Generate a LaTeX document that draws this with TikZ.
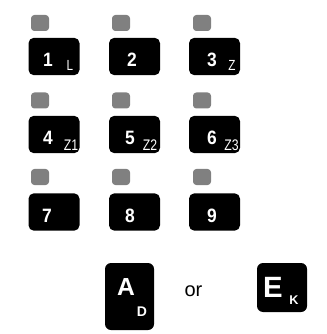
\documentclass[tikz,border=0pt]{standalone}
\usepackage{fontspec}
\setmainfont{Liberation Sans}
\newfontfamily\narrowsans[FakeStretch=0.8]{Liberation Sans}
\newfontfamily\keysans[FakeStretch=0.9]{Liberation Sans}
\usetikzlibrary{positioning}
\definecolor{led}{HTML}{808080}
\tikzset{
  key/.style={fill=black,rounded corners=4pt,minimum width=38.25pt,minimum height=28pt,inner sep=0pt},
  bigkey/.style={key,rounded corners=4.5pt},
  lamp/.style={fill=led,rounded corners=2.5pt,minimum width=13.5pt,minimum height=12pt,inner sep=0pt},
  digit/.style={text=white,inner sep=0pt,font=\keysans\bfseries\fontsize{14.5}{14.5}\selectfont},
  zone/.style={text=white,inner sep=0pt,font=\narrowsans\fontsize{11.5}{11.5}\selectfont},
  hint/.style={text=white,inner sep=0pt,font=\narrowsans\fontsize{11}{11}\selectfont}
}
\begin{document}
\begin{tikzpicture}[x=0.75pt,y=-0.75pt]
\useasboundingbox (0,0) rectangle (326,334);
% lamps
\node[lamp] (l1) at (40,23) {};    \node[lamp] (l2) at (121,23) {};    \node[lamp] (l3) at (202,23) {};
\node[lamp] (l4) at (40,100.5) {}; \node[lamp] (l5) at (121,100.5) {}; \node[lamp] (l6) at (202,100.5) {};
\node[lamp] (l7) at (40,177) {};   \node[lamp] (l8) at (121,177) {};   \node[lamp] (l9) at (202,177) {};
% keys
\node[key] (k1) at (54,56.5) {};  \node[key] (k2) at (134.5,56.5) {};  \node[key] (k3) at (214.5,56.5) {};
\node[key] (k4) at (54,134.5) {}; \node[key] (k5) at (134.5,134.5) {}; \node[key] (k6) at (214.5,134.5) {};
\node[key] (k7) at (54,212) {};   \node[key] (k8) at (134.5,212) {};   \node[key] (k9) at (214.5,212) {};
\node[digit] (d1) at (48,59.5) {1};  \node[digit] (d2) at (132,59.5) {2};  \node[digit] (d3) at (212,59.5) {3};
\node[digit] (d4) at (48,137.5) {4}; \node[digit] (d5) at (130,137.5) {5}; \node[digit] (d6) at (212,137.5) {6};
\node[digit] (d7) at (47,215.5) {7}; \node[digit] (d8) at (130,215.5) {8}; \node[digit] (d9) at (212,215.5) {9};
\node[hint] (zl) at (70,65) {L};   \node[hint] (zz) at (232,65) {Z};
\node[zone] (z1) at (71,145.5) {Z1}; \node[zone] (z2) at (150,145.5) {Z2}; \node[zone] (z3) at (231.5,145.5) {Z3};
% mode keys
\node[bigkey,minimum width=36.75pt,minimum height=50.25pt] (ka) at (129.5,296.5) {};
\node[text=white,inner sep=0pt,font=\bfseries\fontsize{18.5}{18.5}\selectfont] (ta) at (126,287) {A};
\node[text=white,inner sep=0pt,font=\bfseries\fontsize{10.5}{10.5}\selectfont] (td) at (142,312) {D};
\node[inner sep=0pt,font=\fontsize{15}{15}\selectfont] (or) at (193.5,291) {or};
\node[bigkey,minimum width=37.5pt,minimum height=36.75pt] (ke) at (282,287.5) {};
\node[text=white,inner sep=0pt,font=\bfseries\fontsize{22}{22}\selectfont] (te) at (273,287) {E};
\node[text=white,inner sep=0pt,font=\bfseries\fontsize{9.5}{9.5}\selectfont] (tk) at (294,300.5) {K};
\end{tikzpicture}
\end{document}
